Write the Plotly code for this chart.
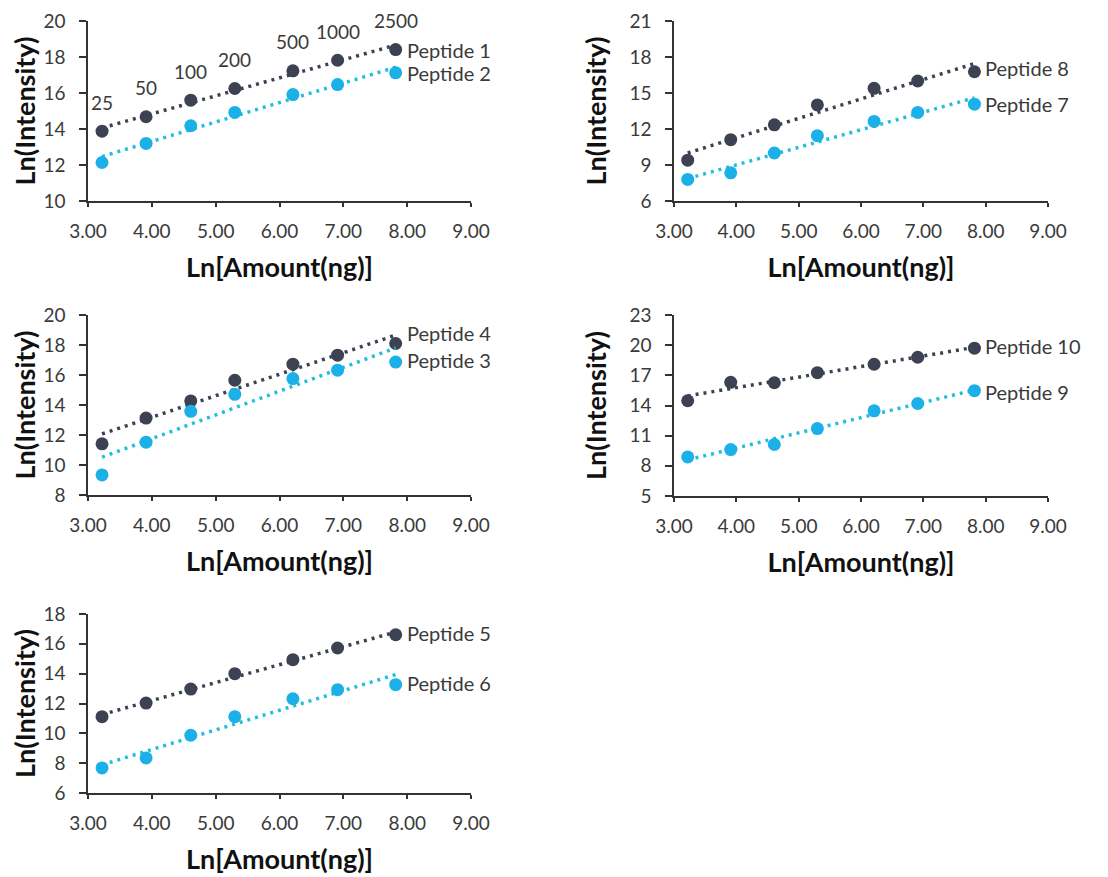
import numpy as np
import plotly.graph_objects as go

# ---------------- data ----------------
amounts = [25, 50, 100, 200, 500, 1000, 2500]
ln_amount = [3.22, 3.91, 4.61, 5.30, 6.21, 6.91, 7.82]

pep1 = [13.88, 14.68, 15.60, 16.25, 17.23, 17.82, 18.41]
pep2 = [12.14, 13.20, 14.18, 14.92, 15.91, 16.47, 17.12]
pep8 = [9.40, 11.11, 12.35, 14.01, 15.39, 16.00, 16.77]
pep7 = [7.80, 8.35, 10.00, 11.44, 12.63, 13.38, 14.07]
pep4 = [11.41, 13.13, 14.27, 15.65, 16.72, 17.32, 18.10]
pep3 = [9.34, 11.52, 13.58, 14.71, 15.76, 16.32, 16.86]
pep10 = [14.47, 16.30, 16.26, 17.26, 18.10, 18.80, 19.70]
pep9 = [8.89, 9.62, 10.12, 11.71, 13.47, 14.20, 15.47]
pep5 = [11.12, 12.03, 12.97, 14.00, 14.94, 15.72, 16.61]
pep6 = [7.68, 8.35, 9.87, 11.12, 12.32, 12.93, 13.26]

x_ticks = [3, 4, 5, 6, 7, 8, 9]
x_ticklabels = ["3.00", "4.00", "5.00", "6.00", "7.00", "8.00", "9.00"]

panels = [
    # (dark series, dark name, cyan series, cyan name, y range, y dtick)
    (pep1, "Peptide 1", pep2, "Peptide 2", (10, 20), 2),
    (pep8, "Peptide 8", pep7, "Peptide 7", (6, 21), 3),
    (pep4, "Peptide 4", pep3, "Peptide 3", (8, 20), 2),
    (pep10, "Peptide 10", pep9, "Peptide 9", (5, 23), 3),
    (pep5, "Peptide 5", pep6, "Peptide 6", (6, 18), 2),
]

# ---------------- style ----------------
W, H = 1108, 877
OFF = 8  # page body margin
DARK = "#3c4252"
CYAN = "#1cb0e8"
CYAN_LINE = "#20c0dc"
TEXT = "#3a3a3a"
FONT = "Lato"

# pixel boxes of plot areas on the page: (x0, x1, y_top, y_bottom)
boxes = [
    (88, 471, 21, 201),
    (674, 1048, 21, 201),
    (88, 471, 315, 495),
    (674, 1048, 315, 496),
    (88, 471, 614, 793),
]
label_yshift = [(0, 0), (4, 0), (10, 2), (2, -1), (2, 2)]

fig = go.Figure()
layout = {}
annotations = []

for i, (dark, dname, cyan, cname, yr, dt) in enumerate(panels):
    n = i + 1
    xa = "x" if n == 1 else f"x{n}"
    ya = "y" if n == 1 else f"y{n}"
    x0, x1, yt, yb = [v - OFF for v in boxes[i]]

    xs = np.array(ln_amount)
    for series, col, lcol in ((dark, DARK, DARK), (cyan, CYAN, CYAN_LINE)):
        k, b = np.polyfit(xs, np.array(series), 1)
        fit = k * xs + b
        fig.add_trace(go.Scatter(
            x=xs, y=fit, mode="lines", xaxis=xa, yaxis=ya,
            line=dict(color=lcol, width=3.5, dash="3px,5px"),
            showlegend=False, hoverinfo="skip"))
        fig.add_trace(go.Scatter(
            x=xs, y=series, mode="markers", xaxis=xa, yaxis=ya,
            marker=dict(color=col, size=13, line=dict(width=0)),
            showlegend=False, cliponaxis=False))

    for (series, name), ys in zip(((dark, dname), (cyan, cname)), label_yshift[i]):
        annotations.append(dict(
            x=ln_amount[-1], y=series[-1], xref=xa, yref=ya,
            text=name, showarrow=False, xanchor="left", yanchor="middle",
            xshift=9, yshift=ys, font=dict(family=FONT, size=20, color=TEXT)))

    common = dict(
        showgrid=False, zeroline=False, showline=True, linecolor="#333333",
        linewidth=1.5, ticks="outside", tickwidth=1.5, tickcolor="#333333",
        tickfont=dict(family=FONT, size=19, color=TEXT), automargin=False,
    )
    layout["xaxis" if n == 1 else f"xaxis{n}"] = dict(
        common, domain=[x0 / W, x1 / W], range=[3, 9], anchor=ya,
        tickvals=x_ticks, ticktext=x_ticklabels, ticklen=4, ticklabelstandoff=8,
        title=dict(text="<b>Ln[Amount(ng)]</b>", standoff=18,
                   font=dict(family=FONT, size=27, color="#111111")),
    )
    layout["yaxis" if n == 1 else f"yaxis{n}"] = dict(
        common, domain=[1 - yb / H, 1 - yt / H], range=list(yr), dtick=dt,
        tick0=yr[0], anchor=xa, ticklen=7, ticklabelstandoff=10,
        title=dict(text="<b>Ln(Intensity)</b>", standoff=15,
                   font=dict(family=FONT, size=27, color="#111111")),
    )

# concentration labels above Peptide 1 points
for xv, yv, amt in zip(ln_amount, pep1, amounts):
    annotations.append(dict(
        x=xv, y=yv, xref="x", yref="y", text=str(amt), showarrow=False,
        xanchor="center", yanchor="middle", yshift=29,
        font=dict(family=FONT, size=19, color=TEXT)))

fig.update_layout(
    width=W, height=H, margin=dict(l=0, r=0, t=0, b=0),
    paper_bgcolor="white", plot_bgcolor="white",
    annotations=annotations, showlegend=False, **layout)

fig.write_html("out.html")
